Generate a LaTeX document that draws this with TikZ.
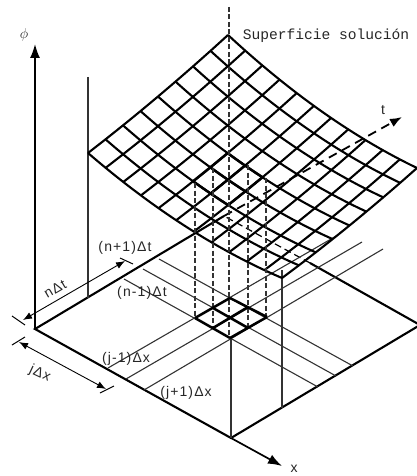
\documentclass[tikz,border=0pt]{standalone}
\usepackage{fontspec}
\setmainfont{Liberation Sans}
\setmonofont{Liberation Mono}
\newfontfamily\labfont[LetterSpace=8]{Liberation Sans}
\usetikzlibrary{arrows.meta}
\tikzset{
  x=1pt,y=-1pt,
  axis/.style={line width=1.7pt,-{Latex[length=14pt,width=10pt]}},
  thin line/.style={line width=1.1pt,black!80},
  base edge/.style={line width=2.1pt},
  dim/.style={line width=0.9pt,{Latex[length=9pt,width=7pt]}-{Latex[length=9pt,width=7pt]}},
  tick/.style={line width=1pt},
  grid line/.style={line width=2.1pt},
  bold line/.style={line width=2.5pt},
  drop/.style={line width=1.1pt,black!80,dash pattern=on 5pt off 2.5pt},
  lab/.style={font=\labfont\fontsize{14}{15}\selectfont,inner sep=0pt,text=black!85},
}
\pgfmathdeclarefunction{sx}{2}{\pgfmathparse{88+194*#1+140*#2-5*#1*#2}}
\pgfmathdeclarefunction{sy}{2}{\pgfmathparse{153+125*#1-118*#2+8*#1*#2+42*#1*(1-#1)+10*#2*(1-#2)}}
\begin{document}
\begin{tikzpicture}
\useasboundingbox (0,0) rectangle (417,476);
% base plane
\coordinate (O) at (35,329);
\coordinate (B) at (231,438);
\coordinate (R) at (420,325);
\coordinate (T) at (224,216);
\coordinate (H) at (310,263);
\coordinate (Xtip) at (282,466);
\coordinate (Ttip) at (402,117);
\coordinate (Ptip) at (35,44);
\draw[base edge] (T) -- (O) -- (B) -- (R) -- (H);
\draw[axis] (B) -- (Xtip);
\draw[axis] (O) -- (Ptip);
\draw[line width=1.2pt,dash pattern=on 7pt off 4pt] (H) -- (T);
\draw[line width=1.8pt,dash pattern=on 9pt off 6pt,-{Latex[length=12pt,width=9pt]}] (T) -- (Ttip);
% thin base lines
\draw[thin line] (124,279) -- (318,387);
\draw[thin line] (143,269) -- (336,376);
\draw[thin line] (159,259) -- (353,366);
\draw[thin line] (108,368) -- (338,235);
\draw[thin line] (126,379) -- (362,242);
\draw[thin line] (144,390) -- (383,249);
% verticals
\draw[thin line] (88,77) -- (88,298);
\draw[thin line] (231,338) -- (231,438);
\draw[thin line] (282,270) -- (282,408);
% surface grid
\foreach \v in {0,1,...,8}{
  \draw[grid line] plot[domain=0:1,samples=23,smooth] ({sx(\x,\v/8)},{sy(\x,\v/8)});
}
\foreach \u in {0,1,...,11}{
  \draw[grid line] plot[domain=0:1,samples=9,smooth] ({sx(\u/11,\x)},{sy(\u/11,\x)});
}
% highlighted surface cell
\foreach \v in {2,3,4}{
  \draw[bold line] plot[domain=4/11:6/11,samples=5,smooth] ({sx(\x,\v/8)},{sy(\x,\v/8)});
}
\foreach \u in {4,5,6}{
  \draw[bold line] plot[domain=2/8:4/8,samples=5,smooth] ({sx(\u/11,\x)},{sy(\u/11,\x)});
}
% dashed verticals
\draw[drop] (229,7) -- (229,338);
\draw[drop] (195,183) -- (195,318);
\draw[drop] (213,168) -- (213,328);
\draw[drop] (248,165) -- (248,328);
\draw[drop] (266,178) -- (266,317);
% small base grid
\draw[bold line] (195,318) -- (230,298);
\draw[bold line] (213,328) -- (248,307);
\draw[bold line] (230,338) -- (267,317);
\draw[bold line] (230,298) -- (267,317);
\draw[bold line] (213,308) -- (248,328);
\draw[bold line] (195,318) -- (230,338);
% dimensions
\coordinate (n1) at (23,320); \coordinate (n2) at (125,261);
\coordinate (j1) at (19,342); \coordinate (j2) at (106,389);
\draw[dim] (n1) -- (n2);
\draw[dim] (j1) -- (j2);
\draw[tick] (12,316) -- (25,325);
\draw[tick] (120,258) -- (133,264);
\draw[tick] (12,345) -- (25,337);
\draw[tick] (100,393) -- (114,386);
% labels
\node[lab] (l1) at (125,248) {(n+1)Δt};
\node[lab] (l2) at (142,293) {(n-1)Δt};
\node[lab,rotate=30] (l3) at (55,289) {nΔt};
\node[lab,rotate=-25] (l4) at (40,374) {jΔx};
\node[lab] (l5) at (126,359) {(j-1)Δx};
\node[lab] (l6) at (186,393) {(j+1)Δx};
\node[lab] (l7) at (294,469) {x};
\node[lab] (l8) at (383,110) {t};
\node[lab] (l9) at (24,35) {$\phi$};
\node[inner sep=0pt,font=\ttfamily\fontsize{14.6}{16}\selectfont,text=black!85] (l10) at (326,36) {Superficie solución};
\end{tikzpicture}
\end{document}
